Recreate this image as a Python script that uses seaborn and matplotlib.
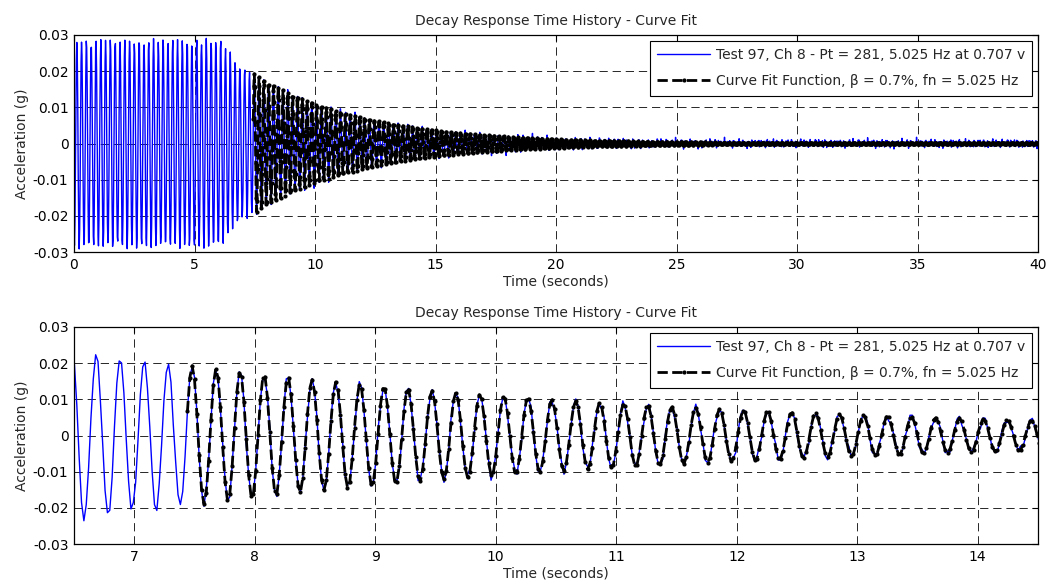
import numpy as np
import pandas as pd
import matplotlib
matplotlib.use("Agg")
import matplotlib.pyplot as plt
import seaborn as sns

# ---------------- values ----------------
title_text = "Decay Response Time History - Curve Fit"
test_label = "Test 97, Ch 8 - Pt = 281, 5.025 Hz at 0.707 v"
fit_label = "Curve Fit Function, \u03b2 = 0.7%, fn = 5.025 Hz"
x_label = "Time (seconds)"
y_label = "Acceleration (g)"

fn_hz = 5.025            # natural frequency (legend)
beta = 0.007             # damping ratio (legend)
sample_rate = 51.2       # samples per second of the record
duration = 40.0          # seconds shown in the upper plot
peak_time = 7.48         # time of the first fitted peak
fit_start = 7.43         # time where the curve fit begins
fit_amp0 = 0.0195        # amplitude at fit start (g)

# envelope of the measured record before the fit starts (time s, amplitude g)
env_times = [0.0, 6.0, 6.3, 6.55, 6.8, 7.1, 7.43]
env_amps = [0.0285, 0.0285, 0.0268, 0.0236, 0.0218, 0.0205, 0.0195]

# small residual / noise components of the measured record
noise_freqs = [7.9, 13.3, 19.7, 23.1]
noise_amps = [0.00045, 0.0004, 0.00035, 0.0003]
noise_phases = [0.3, 1.7, 2.9, 4.1]
floor_amp = 0.0003

x_ticks_top = [0, 5, 10, 15, 20, 25, 30, 35, 40]
x_lim_top = (0, 40)
x_ticks_bottom = [7, 8, 9, 10, 11, 12, 13, 14]
x_lim_bottom = (6.5, 14.5)
y_ticks = [-0.03, -0.02, -0.01, 0, 0.01, 0.02, 0.03]
y_tick_labels = ["-0.03", "-0.02", "-0.01", "0", "0.01", "0.02", "0.03"]
y_lim = (-0.03, 0.03)

# ---------------- build the series ----------------
t = np.arange(0, duration + 1e-9, 1.0 / sample_rate)
omega = 2 * np.pi * fn_hz
carrier = np.cos(omega * (t - peak_time))
decay_env = fit_amp0 * np.exp(-beta * omega * (t - fit_start))
env = np.where(t < fit_start, np.interp(t, env_times, env_amps),
               np.maximum(decay_env, floor_amp))
noise = np.zeros_like(t)
for f, a, p in zip(noise_freqs, noise_amps, noise_phases):
    noise += a * np.sin(2 * np.pi * f * t + p)
test = env * carrier + noise

mask = t >= fit_start
df_test = pd.DataFrame({"time": t, "accel": test})
df_fit = pd.DataFrame({"time": t[mask], "accel": (decay_env * carrier)[mask]})

# ---------------- style ----------------
sns.set_style("white")
plt.rcParams["font.family"] = ["DejaVu Sans"]
plt.rcParams["axes.unicode_minus"] = False
FS = 10

fig = plt.figure(figsize=(10.48, 5.87), dpi=100)
ax_top = fig.add_axes([74 / 1048, 1 - 252 / 587, 964 / 1048, 217 / 587])
ax_bot = fig.add_axes([74 / 1048, 1 - 544 / 587, 964 / 1048, 217 / 587])


def draw(ax, xlim, xticks):
    sns.lineplot(data=df_test, x="time", y="accel", ax=ax, color="#0000ff",
                 linewidth=1.0, estimator=None, sort=False, label=test_label)
    sns.lineplot(data=df_fit, x="time", y="accel", ax=ax, color="black",
                 linewidth=2.0, linestyle="--", marker=".", markersize=6,
                 markeredgewidth=0, estimator=None, sort=False, label=fit_label)
    ax.set_xlim(*xlim)
    ax.set_ylim(*y_lim)
    ax.set_xticks(xticks)
    ax.set_xticklabels([str(v) for v in xticks])
    ax.set_yticks(y_ticks)
    ax.set_yticklabels(y_tick_labels)
    ax.set_axisbelow(True)
    ax.grid(True, color="black", linestyle=(0, (8.5, 5)), linewidth=0.7, alpha=0.85)
    ax.tick_params(direction="in", top=True, right=True, length=4, width=0.8,
                   labelsize=FS, pad=4, colors="black")
    for s in ax.spines.values():
        s.set_color("black")
        s.set_linewidth(0.9)
    ax.set_title(title_text, fontsize=FS, pad=7)
    ax.set_xlabel(x_label, fontsize=FS, labelpad=2)
    ax.set_ylabel(y_label, fontsize=FS, labelpad=3)
    leg = ax.legend(loc="upper right", fontsize=FS, frameon=True, fancybox=False,
                    framealpha=1, edgecolor="black", borderpad=0.55,
                    labelspacing=0.85, handlelength=3.8, handletextpad=0.4,
                    borderaxespad=0.4, numpoints=1)
    leg.get_frame().set_linewidth(0.8)


draw(ax_top, x_lim_top, x_ticks_top)
draw(ax_bot, x_lim_bottom, x_ticks_bottom)

fig.savefig("out.png", dpi=100)
